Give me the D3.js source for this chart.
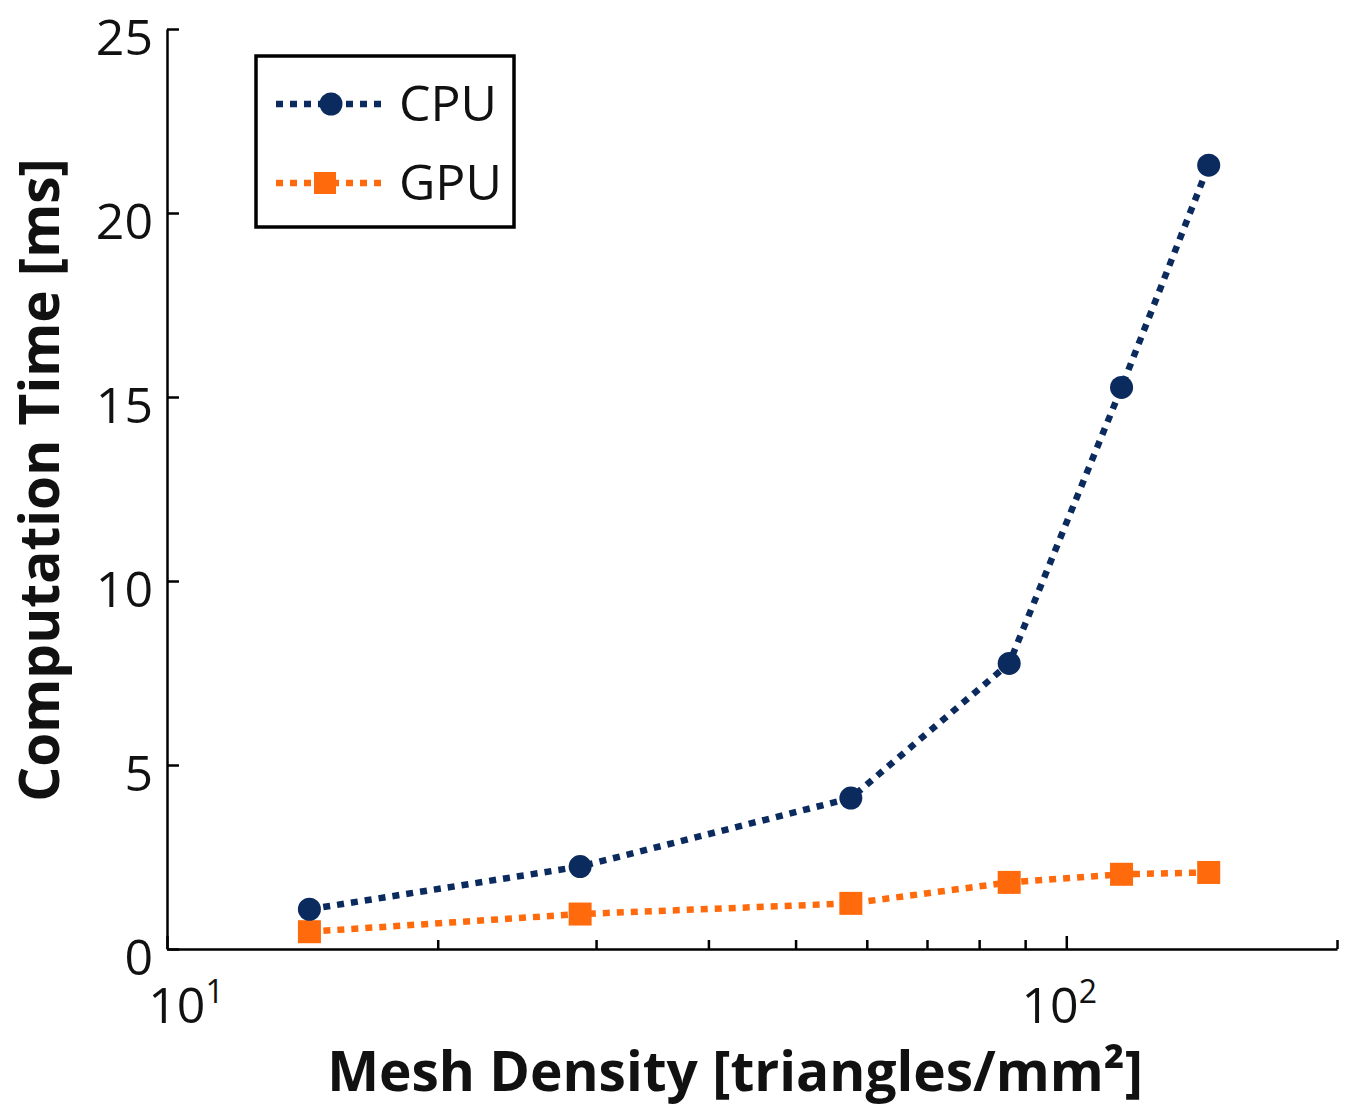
<!DOCTYPE html>
<html>
<head>
<meta charset="utf-8">
<script src="https://cdn.jsdelivr.net/npm/d3@7"></script>
<style>
  body { margin: 0; background: #fff; }
  svg { display: block; font-family: "Open Sans", sans-serif; }
</style>
</head>
<body>
<div id="chart"></div>
<script>
// mesh density [triangles/mm^2]
const density = [14.4, 28.8, 57.6, 86.4, 115.2, 144];
const cpuTime = [1.08, 2.24, 4.10, 7.76, 15.26, 21.30];
const gpuTime = [0.47, 0.95, 1.24, 1.81, 2.03, 2.08];
const yTicks = [0, 5, 10, 15, 20, 25];
const xMajor = [10, 100];
const xMinor = [20, 30, 40, 50, 60, 70, 80, 90, 200];
const seriesNames = ['CPU', 'GPU'];

const W = 1349, H = 1107;
const margin = { top: 29, right: 12, bottom: 158, left: 167 };
const width = W - margin.left - margin.right;
const height = H - margin.top - margin.bottom;

const cpuColor = '#0b2a5e';
const gpuColor = '#ff6a0d';

const svg = d3.select('#chart').append('svg')
  .attr('width', W)
  .attr('height', H);

const g = svg.append('g')
  .attr('transform', `translate(${margin.left},${margin.top})`);

const x = d3.scaleLog().domain([10, 200]).range([0, width]);
const y = d3.scaleLinear().domain([0, 25]).range([height, 0]);

// y axis, ticks pointing inward
const yAxis = g.append('g')
  .call(d3.axisLeft(y).tickValues(yTicks).tickSizeInner(-12).tickSizeOuter(0).tickPadding(14));
yAxis.select('.domain').attr('stroke', '#000').attr('stroke-width', 2.5);
yAxis.selectAll('.tick line').attr('stroke', '#000').attr('stroke-width', 2.5);
yAxis.selectAll('.tick text')
  .attr('font-size', 50)
  .attr('dy', '0.5em')
  .attr('fill', '#111')
  .attr('font-family', '"Open Sans", sans-serif');

// x axis, log ticks pointing inward
const xAxis = g.append('g')
  .attr('transform', `translate(0,${height})`)
  .call(d3.axisBottom(x).tickValues(xMajor.concat(xMinor)).tickSizeInner(-12).tickSizeOuter(0).tickFormat(() => ''));
xAxis.select('.domain').attr('stroke', '#000').attr('stroke-width', 2.5);
xAxis.selectAll('.tick line')
  .attr('stroke', '#000')
  .attr('stroke-width', 2.5)
  .attr('y2', (d) => (xMajor.includes(d) ? -13 : -9));

// power-of-ten labels
const xLab = g.selectAll('text.xlab')
  .data(xMajor)
  .join('text')
  .attr('class', 'xlab')
  .attr('x', (d) => x(d))
  .attr('dx', (d, i) => (i === 0 ? 19 : -7))
  .attr('y', height + 74)
  .attr('text-anchor', 'middle')
  .attr('font-size', 50)
  .attr('fill', '#111');
xLab.append('tspan').text('10');
xLab.append('tspan')
  .attr('font-size', 32)
  .attr('dy', -20)
  .text((d) => Math.round(Math.log10(d)));

// axis titles
svg.append('text')
  .attr('x', margin.left + width / 2 - 17)
  .attr('y', 1091)
  .attr('text-anchor', 'middle')
  .attr('font-size', 55)
  .attr('font-weight', 'bold')
  .attr('fill', '#111')
  .text('Mesh Density [triangles/mm²]');

svg.append('text')
  .attr('transform', 'translate(59,480) rotate(-90)')
  .attr('text-anchor', 'middle')
  .attr('font-size', 55)
  .attr('font-weight', 'bold')
  .attr('fill', '#111')
  .text('Computation Time [ms]');

// series
const line = d3.line()
  .x((d) => x(d[0]))
  .y((d) => y(d[1]));

const cpu = density.map((d, i) => [d, cpuTime[i]]);
const gpu = density.map((d, i) => [d, gpuTime[i]]);

g.append('path')
  .datum(gpu)
  .attr('fill', 'none')
  .attr('stroke', gpuColor)
  .attr('stroke-width', 6.5)
  .attr('stroke-dasharray', '7,7')
  .attr('d', line);

g.append('path')
  .datum(cpu)
  .attr('fill', 'none')
  .attr('stroke', cpuColor)
  .attr('stroke-width', 6.5)
  .attr('stroke-dasharray', '7,7')
  .attr('d', line);

g.selectAll('rect.gpu')
  .data(gpu)
  .join('rect')
  .attr('class', 'gpu')
  .attr('x', (d) => x(d[0]) - 11.5)
  .attr('y', (d) => y(d[1]) - 11.5)
  .attr('width', 23)
  .attr('height', 23)
  .attr('fill', gpuColor);

g.selectAll('circle.cpu')
  .data(cpu)
  .join('circle')
  .attr('class', 'cpu')
  .attr('cx', (d) => x(d[0]))
  .attr('cy', (d) => y(d[1]))
  .attr('r', 11.5)
  .attr('fill', cpuColor);

// legend
const legend = svg.append('g').attr('transform', 'translate(256,56)');
legend.append('rect')
  .attr('width', 258)
  .attr('height', 171)
  .attr('fill', '#fff')
  .attr('stroke', '#000')
  .attr('stroke-width', 3.5);

const items = legend.selectAll('g.item')
  .data(seriesNames)
  .join('g')
  .attr('class', 'item')
  .attr('transform', (d, i) => `translate(0,${48 + i * 79})`);

items.append('line')
  .attr('x1', 20)
  .attr('x2', 128)
  .attr('stroke', (d, i) => (i === 0 ? cpuColor : gpuColor))
  .attr('stroke-width', 6.5)
  .attr('stroke-dasharray', '7,7');

items.each(function (d, i) {
  const it = d3.select(this);
  if (i === 0) {
    it.append('circle').attr('cx', 75).attr('r', 11.5).attr('fill', cpuColor);
  } else {
    it.append('rect').attr('x', 58).attr('y', -11).attr('width', 22).attr('height', 22).attr('fill', gpuColor);
  }
});

items.append('text')
  .attr('x', 143)
  .attr('y', 17)
  .attr('font-size', 50)
  .attr('fill', '#111')
  .text((d) => d);
</script>
</body>
</html>
